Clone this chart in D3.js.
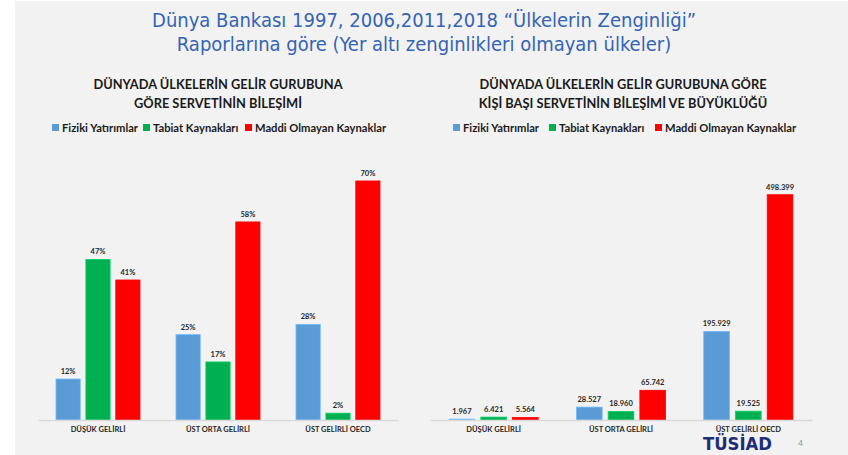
<!DOCTYPE html>
<html>
<head>
<meta charset="utf-8">
<script src="https://cdn.jsdelivr.net/npm/d3@7"></script>
<style>
  body { margin: 0; background: #ffffff; }
  svg { display: block; }
</style>
</head>
<body>
<svg id="chart" width="848" height="455"></svg>
<script>
// categories and series
const categories = ["DÜŞÜK GELİRLİ", "ÜST ORTA GELİRLİ", "ÜST GELİRLİ OECD"];
const seriesNames = ["Fiziki Yatırımlar", "Tabiat Kaynakları", "Maddi Olmayan Kaynaklar"];
const seriesColors = ["#5b9bd5", "#00b050", "#ff0000"];

// left chart: share of wealth (%)
const shareFiziki = [12, 25, 28];
const shareTabiat = [47, 17, 2];
const shareMaddi = [41, 58, 70];

// right chart: wealth per capita ($)
const perFiziki = [1967, 28527, 195929];
const perTabiat = [6421, 18960, 19525];
const perMaddi = [5564, 65742, 498399];

const svg = d3.select("#chart");

// slide background
svg.append("rect")
    .attr("x", 15).attr("y", 1)
    .attr("width", 833).attr("height", 454)
    .attr("fill", "#f2f2f2");

// main title
const titleLines = ["Dünya Bankası 1997, 2006,2011,2018 “Ülkelerin Zenginliği”",
                    "Raporlarına göre (Yer altı zenginlikleri olmayan ülkeler)"];
svg.selectAll(".main-title")
    .data(titleLines)
    .enter()
    .append("text")
    .attr("class", "main-title")
    .attr("x", 424)
    .attr("y", function(d, i) { return 27 + i * 24; })
    .attr("text-anchor", "middle")
    .style("font-family", "'DejaVu Sans Condensed', 'DejaVu Sans', sans-serif")
    .style("font-size", "20px")
    .style("fill", "#3564b4")
    .text(function(d) { return d; });

const trFormat = d3.formatLocale({ decimal: ",", thousands: ".", grouping: [3], currency: ["", ""] }).format(",d");

function drawChart(cfg) {
    const g = svg.append("g");

    // chart title
    g.selectAll(".ctitle")
        .data(cfg.title)
        .enter()
        .append("text")
        .attr("x", cfg.titleX)
        .attr("y", function(d, i) { return 89 + i * 19; })
        .attr("text-anchor", "middle")
        .style("font-family", "Lato, 'Open Sans', sans-serif")
        .style("font-weight", "bold")
        .style("font-size", "12.8px")
        .style("fill", "#1a1a1a")
        .text(function(d) { return d; });

    // legend
    const legend = g.selectAll(".legend")
        .data(seriesNames)
        .enter()
        .append("g")
        .attr("transform", function(d, i) { return "translate(" + cfg.legendX[i] + ",124)"; });
    legend.append("rect")
        .attr("width", 7).attr("height", 7)
        .attr("fill", function(d, i) { return seriesColors[i]; });
    legend.append("text")
        .attr("x", 10)
        .attr("y", 7.5)
        .style("font-family", "Lato, 'Open Sans', sans-serif")
        .style("font-weight", "bold")
        .style("font-size", "11.2px")
        .style("fill", "#1a1a1a")
        .text(function(d) { return d; });

    // scales
    const x0 = d3.scaleBand()
        .domain(categories)
        .range(cfg.xRange)
        .paddingInner(0.3)
        .paddingOuter(0.15);
    const x1 = d3.scaleBand()
        .domain(seriesNames)
        .range([0, x0.bandwidth()])
        .paddingInner(0.19);
    const y = d3.scaleLinear()
        .domain([0, cfg.yMax])
        .range([420, cfg.yTop]);

    const rows = categories.map(function(c, ci) {
        return { cat: c, values: cfg.series.map(function(s, si) { return { name: seriesNames[si], value: s[ci], color: seriesColors[si] }; }) };
    });

    const groups = g.selectAll(".grp")
        .data(rows)
        .enter()
        .append("g")
        .attr("transform", function(d) { return "translate(" + x0(d.cat) + ",0)"; });

    groups.selectAll("rect")
        .data(function(d) { return d.values; })
        .enter()
        .append("rect")
        .attr("x", function(d) { return x1(d.name); })
        .attr("y", function(d) { return y(d.value); })
        .attr("width", x1.bandwidth())
        .attr("height", function(d) { return y(0) - y(d.value); })
        .attr("fill", function(d) { return d.color; })
        .attr("stroke", function(d) { return d3.color(d.color).brighter(0.5); })
        .attr("stroke-width", 0.8);

    groups.selectAll(".lbl")
        .data(function(d) { return d.values; })
        .enter()
        .append("text")
        .attr("x", function(d) { return x1(d.name) + x1.bandwidth() / 2; })
        .attr("y", function(d) { return y(d.value) - 5; })
        .attr("text-anchor", "middle")
        .style("font-family", "Lato, 'Open Sans', sans-serif")
        .style("font-weight", "bold")
        .style("font-size", "7.5px")
        .style("fill", "#262626")
        .text(cfg.format);

    // category axis
    const axis = g.append("g")
        .attr("transform", "translate(0,420)")
        .call(d3.axisBottom(x0).tickSize(0).tickPadding(7));
    axis.select(".domain").attr("stroke", "#d9d9d9").attr("stroke-width", 1.5);
    axis.selectAll("text")
        .style("font-family", "Lato, 'Open Sans', sans-serif")
        .style("font-weight", "bold")
        .style("font-size", "7.5px")
        .style("fill", "#262626");
}

drawChart({
    title: ["DÜNYADA ÜLKELERİN GELİR GURUBUNA", "GÖRE SERVETİNİN BİLEŞİMİ"],
    titleX: 218,
    legendX: [52, 143, 245],
    xRange: [38, 398],
    yMax: 80,
    yTop: 420 - 80 * 3.415,
    series: [shareFiziki, shareTabiat, shareMaddi],
    format: function(d) { return d.value + "%"; }
});

drawChart({
    title: ["DÜNYADA ÜLKELERİN GELİR GURUBUNA GÖRE", "KİŞİ BAŞI SERVETİNİN BİLEŞİMİ VE BÜYÜKLÜĞÜ"],
    titleX: 623,
    legendX: [453, 549, 655],
    xRange: [430, 812],
    yMax: 600000,
    yTop: 420 - 600000 * 0.000452,
    series: [perFiziki, perTabiat, perMaddi],
    format: function(d) { return trFormat(d.value); }
});

// logo and page number
svg.append("text")
    .attr("x", 703)
    .attr("y", 450)
    .attr("textLength", 69)
    .attr("lengthAdjust", "spacingAndGlyphs")
    .style("font-family", "'DejaVu Sans', sans-serif")
    .style("font-weight", "bold")
    .style("font-size", "17px")
    .style("fill", "#1f2c78")
    .text("TÜSİAD");

svg.append("text")
    .attr("x", 798)
    .attr("y", 446)
    .style("font-family", "'Liberation Sans', sans-serif")
    .style("font-size", "9px")
    .style("fill", "#999999")
    .text("4");
</script>
</body>
</html>
